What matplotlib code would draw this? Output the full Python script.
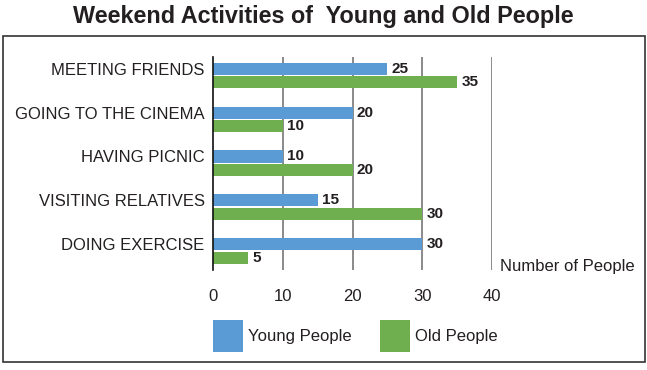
import numpy as np
import matplotlib.pyplot as plt
from matplotlib.patches import Rectangle

plt.rcParams['font.family'] = ['Liberation Sans', 'DejaVu Sans']

activities = ['MEETING FRIENDS', 'GOING TO THE CINEMA', 'HAVING PICNIC',
              'VISITING RELATIVES', 'DOING EXERCISE']
young = [25, 20, 10, 15, 30]
old = [35, 10, 20, 30, 5]
ticks = [0, 10, 20, 30, 40]

c_young = '#5B9BD5'
c_old = '#6FAF50'
txt = '#231f20'

W, H = 647, 370
fig = plt.figure(figsize=(W / 100, H / 100), dpi=100)

# outer frame
fig.patches.append(Rectangle((3 / W, 1 - 362 / H), 642 / W, 326 / H,
                             transform=fig.transFigure, fill=False,
                             edgecolor='#333333', linewidth=1.2))

fig.text(0.5, 1 - 17 / H, 'Weekend Activities of  Young and Old People',
         ha='center', va='center', fontsize=16.8, fontweight='bold', color=txt)

ax = fig.add_axes([213 / W, 1 - 270 / H, 279 / W, 213 / H])

y = np.arange(len(activities))[::-1]
off = 0.155
h = 0.275
b1 = ax.barh(y + off, young, height=h, color=c_young, label='Young People', zorder=3)
b2 = ax.barh(y - off, old, height=h, color=c_old, label='Old People', zorder=3)
ax.bar_label(b1, padding=3, fontsize=11, fontweight='bold', color=txt)
ax.bar_label(b2, padding=3, fontsize=11, fontweight='bold', color=txt)

ax.set_xlim(0, 40)
ax.set_ylim(-0.43, 4.42)
ax.set_xticks(ticks)
ax.set_xticklabels([str(t) for t in ticks])
ax.set_yticks(y + off)
ax.set_yticklabels(activities)
ax.tick_params(axis='both', length=0, labelsize=12, colors=txt)
ax.tick_params(axis='x', pad=14)
ax.tick_params(axis='y', pad=6)

for t in ticks[1:]:
    ax.axvline(t, color='#8a8a8a', linewidth=1.4, zorder=1)

for s in ['top', 'right', 'bottom']:
    ax.spines[s].set_visible(False)
ax.spines['left'].set_color('#111111')
ax.spines['left'].set_linewidth(1.2)
ax.spines['left'].set_zorder(4)

fig.text(500 / W, 1 - 266 / H, 'Number of People', ha='left', va='center',
         fontsize=12, color=txt)

fig.legend(handles=[b1, b2], loc='center left',
           bbox_to_anchor=(205 / W, 1 - 336 / H), ncol=2, frameon=False,
           fontsize=12, handlelength=1.8, handleheight=2.57,
           handletextpad=0.3, columnspacing=1.7, borderpad=0,
           labelcolor=txt)

fig.savefig('out.png', dpi=100)
